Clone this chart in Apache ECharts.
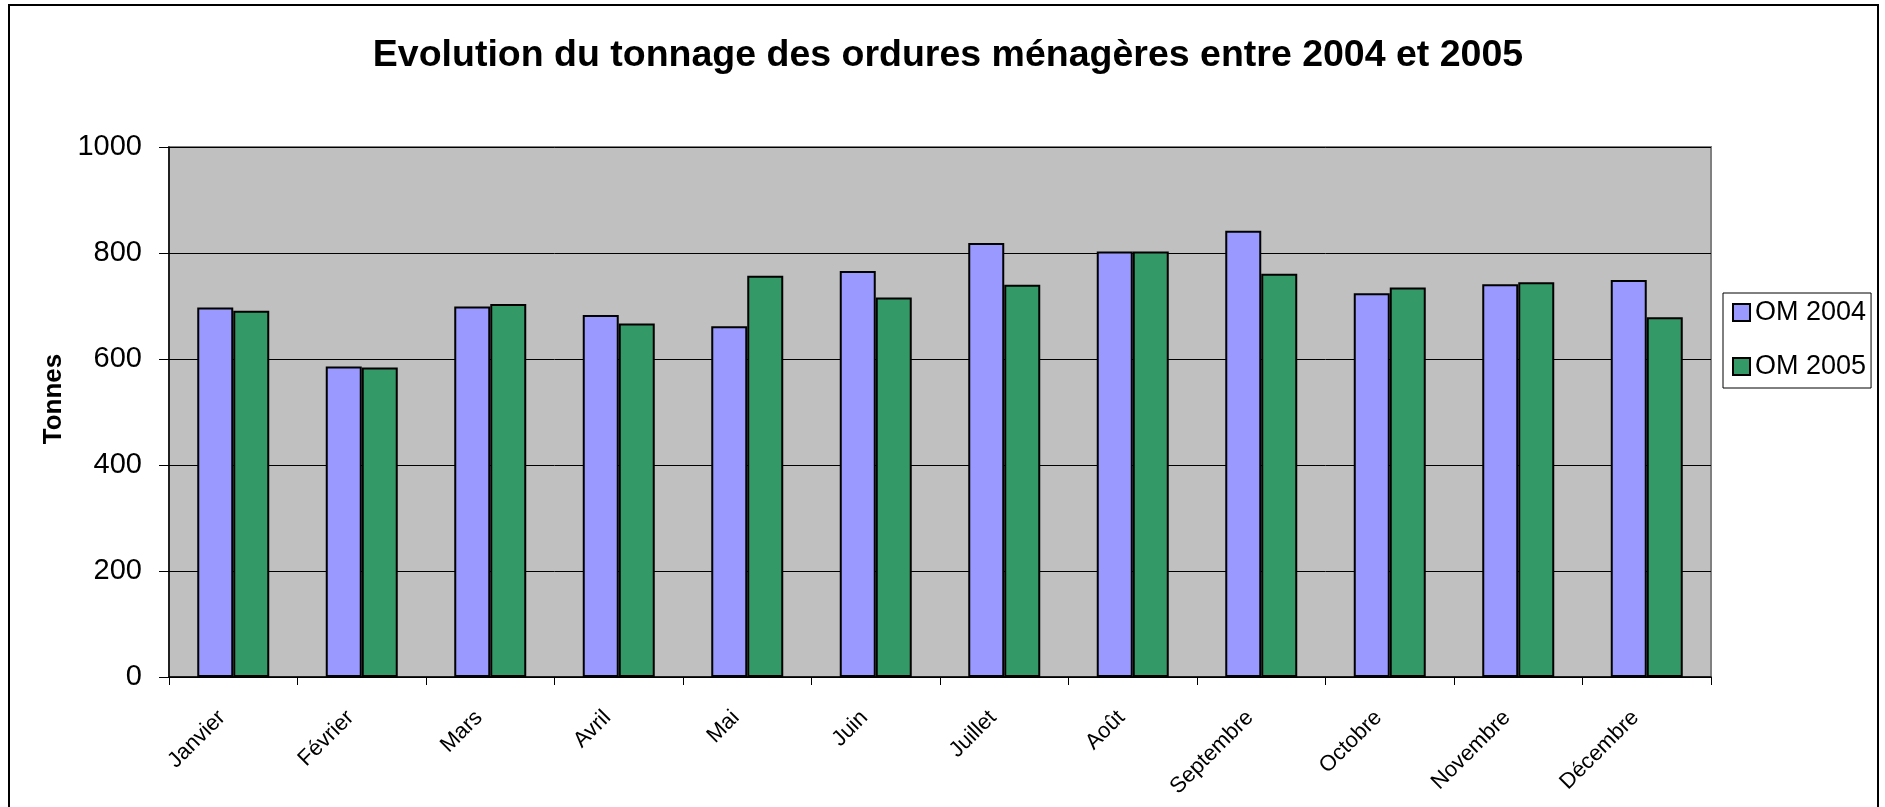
<!DOCTYPE html>
<html>
<head>
<meta charset="utf-8">
<title>Evolution du tonnage des ordures ménagères</title>
<script src="https://cdn.jsdelivr.net/npm/echarts@6/dist/echarts.min.js"></script>
<style>
  html, body { margin: 0; padding: 0; background: #fff; }
  #chart { width: 1885px; height: 807px; }
</style>
</head>
<body>
<div id="chart"></div>
<script>
// mois (axe des abscisses)
const months = ['Janvier', 'Février', 'Mars', 'Avril', 'Mai', 'Juin',
  'Juillet', 'Août', 'Septembre', 'Octobre', 'Novembre', 'Décembre']
// tonnages
const om2004 = [697, 586, 699, 683, 662, 766, 819, 803, 842, 724, 741, 749]
const om2005 = [691, 584, 704, 667, 757, 716, 740, 803, 761, 735, 745, 679]
const seriesNames = ['OM 2004', 'OM 2005']
const yTicks = { min: 0, max: 1000, step: 200 }

const font = "'Liberation Sans', Arial, sans-serif"
const chart = echarts.init(document.getElementById('chart'))

const option = {
  backgroundColor: '#fff',
  animation: false,
  title: {
    text: 'Evolution du tonnage des ordures ménagères entre 2004 et 2005',
    left: 943,
    textAlign: 'center',
    top: 32,
    textStyle: { fontFamily: font, fontSize: 37.5, fontWeight: 'bold', color: '#000' }
  },
  // cadre extérieur
  graphic: [{
    type: 'rect',
    shape: { x: 9, y: 5, width: 1869, height: 900 },
    style: { fill: 'none', stroke: '#000', lineWidth: 2 },
    silent: true
  }],
  legend: {
    orient: 'vertical',
    left: 1723,
    top: 293,
    padding: [6, 5, 8, 9],
    itemGap: 27,
    itemWidth: 17,
    itemHeight: 17,
    icon: 'rect',
    borderColor: '#000',
    borderWidth: 1,
    backgroundColor: '#fff',
    itemStyle: { borderColor: '#000', borderWidth: 2 },
    textStyle: { fontFamily: font, fontSize: 27, lineHeight: 27, color: '#000' },
    data: seriesNames
  },
  grid: {
    left: 169,
    right: 174,
    top: 147,
    bottom: 130,
    show: true,
    backgroundColor: '#C0C0C0',
    borderColor: '#808080',
    borderWidth: 2
  },
  xAxis: {
    type: 'category',
    data: months,
    boundaryGap: true,
    axisLine: { lineStyle: { color: '#000', width: 1.5 } },
    axisTick: { show: true, length: 8, lineStyle: { color: '#000' } },
    axisLabel: {
      interval: 0,
      rotate: 45,
      margin: 26,
      padding: [0, 16, 0, 0],
      fontFamily: font,
      fontSize: 22,
      color: '#000'
    }
  },
  yAxis: {
    type: 'value',
    min: yTicks.min,
    max: yTicks.max,
    interval: yTicks.step,
    name: 'Tonnes',
    nameLocation: 'middle',
    nameRotate: 90,
    nameGap: 91,
    nameTextStyle: {
      fontFamily: font, fontSize: 26, fontWeight: 'bold', color: '#000',
      padding: [0, 0, 0, 26]
    },
    axisLine: { show: true, lineStyle: { color: '#000', width: 1.5 } },
    axisTick: { show: true, length: 10, lineStyle: { color: '#000' } },
    axisLabel: {
      margin: 27, fontFamily: font, fontSize: 29, color: '#000',
      formatter: (v) => String(v)
    },
    splitLine: { show: true, lineStyle: { color: '#000', width: 1 } }
  },
  series: [
    {
      name: seriesNames[0],
      type: 'bar',
      data: om2004,
      barWidth: 36,
      barGap: '0%',
      itemStyle: { color: '#9999FF', borderColor: '#000', borderWidth: 2 }
    },
    {
      name: seriesNames[1],
      type: 'bar',
      data: om2005,
      barWidth: 36,
      barGap: '0%',
      itemStyle: { color: '#339966', borderColor: '#000', borderWidth: 2 }
    }
  ]
}
chart.setOption(option)
</script>
</body>
</html>
